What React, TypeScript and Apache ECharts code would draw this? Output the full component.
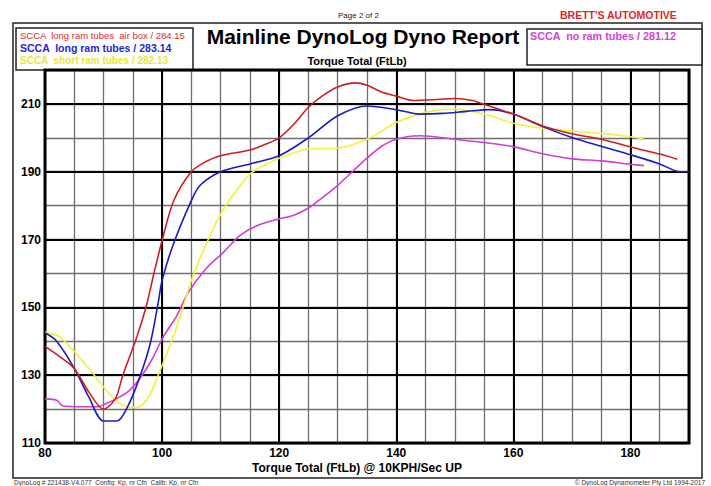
import React, { useEffect, useRef } from "react";
import * as echarts from "echarts";

const seriesNames = [
  "SCCA  long ram tubes  air box / 284.15",
  "SCCA  long ram tubes / 283.14",
  "SCCA  short ram tubes / 282.13",
  "SCCA  no ram tubes / 281.12",
];

const redData: [number, number][] = [
  [80, 138.5], [82.5, 135.5], [85, 132], [87.5, 125], [90, 120], [92, 123],
  [93.3, 130], [95.7, 141.3], [97.4, 151], [98.6, 160], [100, 169.7], [102, 181.5],
  [105, 190], [107.5, 193], [110, 194.7], [115, 196.4], [117.5, 198], [120, 200],
  [122.5, 204], [125, 209], [127.5, 212.5], [130, 215], [133, 216.2], [135, 215.5],
  [137.5, 213.5], [140, 212.3], [143, 211], [147, 211.3], [150, 211.6], [153, 211],
  [155, 209.9], [160, 207], [165, 203.5], [170, 201.2], [175, 199.6], [180, 197.3],
  [185, 195.2], [188, 193.7],
];

const blueData: [number, number][] = [
  [80, 142.5], [82, 140], [85, 132], [87.5, 123.5], [90, 116.5], [92.3, 116.5],
  [94.2, 121], [96.2, 129.5], [98, 139.5], [99.4, 152], [100, 158], [102, 169],
  [105, 181.5], [106.5, 186], [110, 190], [115, 192.3], [120, 194.7], [125, 200],
  [130, 206.5], [135, 209.4], [140, 208.3], [144, 207], [148, 207.2], [152, 207.8],
  [156, 208.3], [160, 207], [165, 203.3], [170, 200.1], [175, 197.5], [180, 195],
  [185, 192.3], [188.5, 190], [190, 190],
];

const yellowData: [number, number][] = [
  [80, 142.7], [82.5, 141.3], [85, 137], [87.5, 132], [90, 126.5], [92.5, 122],
  [95, 120.5], [96.2, 120.7], [98, 124.6], [99.1, 129], [100.8, 136.4], [102.5, 144.2],
  [103.5, 149.5], [105, 158], [107.5, 168.5], [110, 177.5], [112.5, 184], [115, 189.3],
  [117.5, 192], [120, 194], [125, 196.7], [130, 197], [135, 199.6], [140, 204.5],
  [145, 207.5], [150, 208.5], [155, 207], [160, 204.3], [165, 202.8], [170, 202],
  [175, 201.3], [180, 200.3], [182.3, 199.6],
];

const magentaData: [number, number][] = [
  [80, 123], [82, 122.6], [83, 121], [86.5, 120.7], [89, 120.7], [90.5, 121.7],
  [92.8, 123.6], [94.5, 125.6], [96.2, 129], [98.2, 134.4], [100.2, 141.3], [102.5, 147.5],
  [104.5, 154.5], [107.5, 161.4], [110.5, 166.3], [113.3, 171.2], [116.2, 174.1], [120, 176.1],
  [122.5, 177.2], [125, 179.3], [127.5, 182.5], [130, 186], [132.5, 190], [135, 194],
  [137.5, 197.5], [140, 199.6], [144, 200.6], [150, 199.6], [155, 198.6], [160, 197.4],
  [165, 195.3], [170, 193.8], [175, 193.2], [180, 192.2], [182.3, 191.8],
];

const lineColors = ["#cc2020", "#1c1cc0", "#f2f23a", "#d43cd4"];
const textColors = ["#e02828", "#2424d8", "#e8e832", "#d840d8"];

const FONT = "'Liberation Sans', Arial, sans-serif";

export default function App() {
  const ref = useRef<HTMLDivElement>(null);
  useEffect(() => {
    if (!ref.current) return;
    const chart = echarts.init(ref.current, undefined, { renderer: "svg" });
    const allData = [redData, blueData, yellowData, magentaData];
    chart.setOption({
      animation: false,
      backgroundColor: "#ffffff",
      grid: {
        left: 45,
        top: 70,
        width: 644,
        height: 373,
        show: true,
        borderColor: "#000",
        borderWidth: 3,
        z: 3,
        backgroundColor: "transparent",
      },
      xAxis: [
        {
          type: "value",
          min: 80,
          max: 190,
          interval: 5,
          axisLine: { show: false },
          axisTick: { show: false },
          splitLine: { show: true, lineStyle: { color: "#6e6e6e", width: 1.3 } },
          axisLabel: {
            show: true,
            margin: 4,
            color: "#000",
            fontWeight: "bold",
            fontSize: 12,
            fontFamily: FONT,
            formatter: (v: number) => (v % 20 === 0 ? String(v) : ""),
          },
        },
        {
          type: "value",
          min: 80,
          max: 190,
          interval: 20,
          position: "top",
          axisLine: { show: false },
          axisTick: { show: false },
          axisLabel: { show: false },
          splitLine: { show: true, lineStyle: { color: "#000", width: 2 } },
          z: 1,
        },
      ],
      yAxis: [
        {
          type: "value",
          min: 110,
          max: 220,
          interval: 10,
          axisLine: { show: false },
          axisTick: { show: false },
          splitLine: { show: true, lineStyle: { color: "#6e6e6e", width: 1.3 } },
          axisLabel: {
            show: true,
            margin: 4,
            color: "#000",
            fontWeight: "bold",
            fontSize: 12,
            fontFamily: FONT,
            formatter: (v: number) => ((v - 110) % 20 === 0 && v < 220 ? String(v) : ""),
          },
        },
        {
          type: "value",
          min: 110,
          max: 220,
          interval: 20,
          position: "right",
          axisLine: { show: false },
          axisTick: { show: false },
          axisLabel: { show: false },
          splitLine: { show: true, lineStyle: { color: "#000", width: 2 } },
          z: 1,
        },
      ],
      series: allData.map((d, i) => ({
        name: seriesNames[i],
        type: "line",
        xAxisIndex: 0,
        yAxisIndex: 0,
        data: d,
        smooth: 0.3,
        showSymbol: false,
        z: 5 + (3 - i),
        lineStyle: { color: lineColors[i], width: 1.6 },
      })),
      graphic: [
        { type: "rect", shape: { x: 13, y: 23, width: 689, height: 455 }, style: { fill: "transparent", stroke: "#222", lineWidth: 1.5 } },
        { type: "rect", shape: { x: 16, y: 28, width: 177, height: 42 }, style: { fill: "#fff", stroke: "#222", lineWidth: 1.5 } },
        { type: "rect", shape: { x: 527, y: 29, width: 175, height: 36 }, style: { fill: "#fff", stroke: "#222", lineWidth: 1.5 } },
        { type: "text", style: { text: seriesNames[0], x: 20, y: 35, fill: textColors[0], font: `9.5px ${FONT}`, textVerticalAlign: "middle" } },
        { type: "text", style: { text: seriesNames[1], x: 20, y: 48, fill: textColors[1], font: `bold 10.5px ${FONT}`, textVerticalAlign: "middle" } },
        { type: "text", style: { text: seriesNames[2], x: 20, y: 60, fill: textColors[2], font: `bold 10px ${FONT}`, textVerticalAlign: "middle" } },
        { type: "text", style: { text: seriesNames[3], x: 530, y: 36, fill: textColors[3], font: `bold 10.8px ${FONT}`, textVerticalAlign: "middle" } },
        { type: "text", style: { text: "Page 2 of 2", x: 338, y: 15, fill: "#222", font: `8px ${FONT}`, textVerticalAlign: "middle" } },
        { type: "text", style: { text: "BRETT'S AUTOMOTIVE", x: 560, y: 15, fill: "#e02828", font: `bold 10.5px ${FONT}`, textVerticalAlign: "middle" } },
        { type: "text", style: { text: "Mainline DynoLog Dyno Report", x: 363, y: 36, fill: "#000", font: `bold 21px ${FONT}`, textAlign: "center", textVerticalAlign: "middle" } },
        { type: "text", style: { text: "Torque Total (FtLb)", x: 357, y: 61, fill: "#000", font: `bold 11px ${FONT}`, textAlign: "center", textVerticalAlign: "middle" } },
        { type: "text", style: { text: "Torque Total (FtLb) @ 10KPH/Sec UP", x: 357, y: 468, fill: "#000", font: `bold 12px ${FONT}`, textAlign: "center", textVerticalAlign: "middle" } },
        { type: "text", style: { text: "DynoLog # 221438-V4.077  Config: Kp, nr Cfn  Calib: Kp, nr Cfn", x: 14, y: 482, fill: "#333", font: `6.5px ${FONT}`, textVerticalAlign: "middle" } },
        { type: "text", style: { text: "© DynoLog Dynamometer Pty Ltd 1994-2017", x: 705, y: 482, fill: "#333", font: `6.5px ${FONT}`, textAlign: "right", textVerticalAlign: "middle" } },
      ],
    });
    return () => chart.dispose();
  }, []);
  return <div ref={ref} style={{ position: "fixed", left: 0, top: 0, width: 711, height: 486 }} />;
}
